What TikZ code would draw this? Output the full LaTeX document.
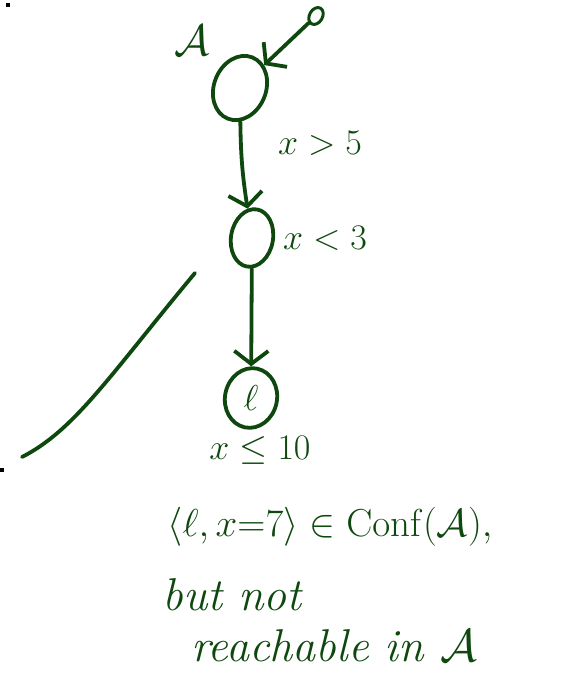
\RequirePackage{fix-cm}
\documentclass[tikz,border=0pt]{standalone}
\usetikzlibrary{shapes.geometric,arrows.meta}
\definecolor{hand}{RGB}{14,72,14}
\begin{document}
\begin{tikzpicture}[x=1pt,y=-1pt,
  stroke/.style={draw=hand,line width=3.8pt,line cap=round,line join=round},
  state/.style={ellipse,stroke,inner sep=0pt},
  lab/.style={text=hand,font=\fontsize{36}{42}\selectfont,inner sep=0pt},
  big/.style={text=hand,font=\fontsize{46}{52}\selectfont\itshape,inner sep=0pt},
  edge/.style={stroke,-{Straight Barb[length=13pt,width=34pt]}}]
\useasboundingbox (0,0) rectangle (572,674);
\fill[black] (6,3) rectangle (10,7);
\fill[black] (0,468) rectangle (4,472);
% states
\node[state,minimum width=52pt,minimum height=66pt,rotate=-22] (A) at (240,88) {};
\node[lab,font=\fontsize{44}{50}\selectfont] (Alab) at (192,40) {$\mathcal{A}$};
\node[state,minimum width=13pt,minimum height=18pt,rotate=-30,line width=3pt] (init) at (316,16) {};
\node[state,minimum width=42pt,minimum height=58pt,rotate=-10] (B) at (252,238) {};
\node[state,minimum width=52pt,minimum height=60pt,rotate=-12] (L) at (251,398) {};
\node[lab] (Ltext) at (L.center) {$\ell$};
% edges
\draw[edge] (init) -- (A);
\draw[edge] (A) to[bend right=4] (B);
\draw[edge] (B) -- (L);
% labels
\node[lab] (g1) at (320,143) {$x>5$};
\node[lab] (g2) at (325,238) {$x<3$};
\node[lab] (inv) at (260,450) {$x\le 10$};
% diagonal stroke
\draw[stroke] (195,273) .. controls (110,375) and (75,430) .. (22,457);
% text
\node[lab,font=\fontsize{39}{45}\selectfont] (t1) at (330,527) {$\langle \ell, x{=}7\rangle \in \mathrm{Conf}(\mathcal{A}),$};
\node[big] (t2) at (232,595) {but not};
\node[big] (t3) at (334,646) {reachable in $\mathcal{A}$};
\end{tikzpicture}
\end{document}
